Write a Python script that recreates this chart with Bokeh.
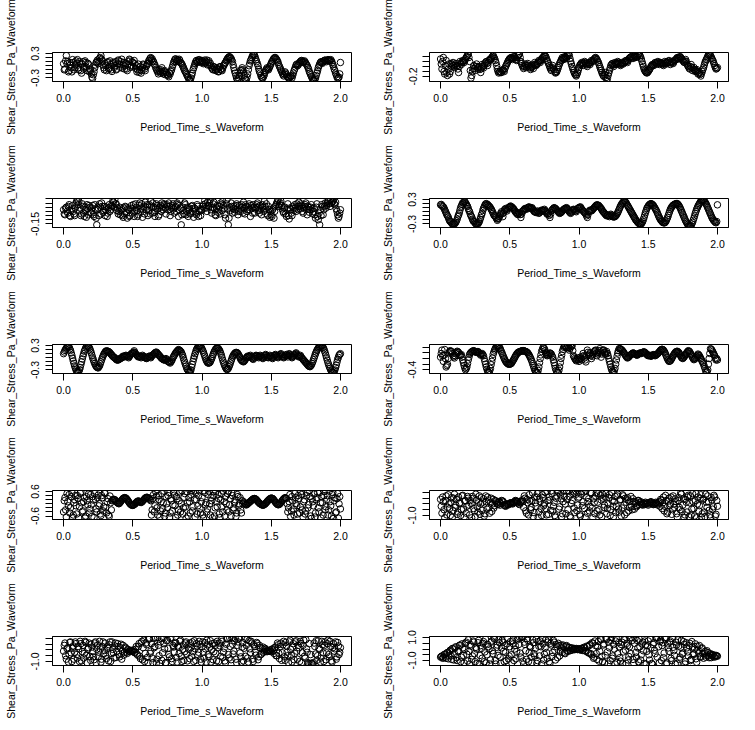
from bokeh.plotting import figure
from bokeh.layouts import column, row
from bokeh.models import Range1d, FixedTicker
from bokeh.embed import file_html
from bokeh.resources import INLINE

# sample times (s): on-grid samples and the in-between samples
period_time_s = [
    0.00, 0.01, 0.02, 0.03, 0.04, 0.05, 0.06, 0.07, 0.08, 0.09,
    0.10, 0.11, 0.12, 0.13, 0.14, 0.15, 0.16, 0.17, 0.18, 0.19,
    0.20, 0.21, 0.22, 0.23, 0.24, 0.25, 0.26, 0.27, 0.28, 0.29,
    0.30, 0.31, 0.32, 0.33, 0.34, 0.35, 0.36, 0.37, 0.38, 0.39,
    0.40, 0.41, 0.42, 0.43, 0.44, 0.45, 0.46, 0.47, 0.48, 0.49,
    0.50, 0.51, 0.52, 0.53, 0.54, 0.55, 0.56, 0.57, 0.58, 0.59,
    0.60, 0.61, 0.62, 0.63, 0.64, 0.65, 0.66, 0.67, 0.68, 0.69,
    0.70, 0.71, 0.72, 0.73, 0.74, 0.75, 0.76, 0.77, 0.78, 0.79,
    0.80, 0.81, 0.82, 0.83, 0.84, 0.85, 0.86, 0.87, 0.88, 0.89,
    0.90, 0.91, 0.92, 0.93, 0.94, 0.95, 0.96, 0.97, 0.98, 0.99,
    1.00, 1.01, 1.02, 1.03, 1.04, 1.05, 1.06, 1.07, 1.08, 1.09,
    1.10, 1.11, 1.12, 1.13, 1.14, 1.15, 1.16, 1.17, 1.18, 1.19,
    1.20, 1.21, 1.22, 1.23, 1.24, 1.25, 1.26, 1.27, 1.28, 1.29,
    1.30, 1.31, 1.32, 1.33, 1.34, 1.35, 1.36, 1.37, 1.38, 1.39,
    1.40, 1.41, 1.42, 1.43, 1.44, 1.45, 1.46, 1.47, 1.48, 1.49,
    1.50, 1.51, 1.52, 1.53, 1.54, 1.55, 1.56, 1.57, 1.58, 1.59,
    1.60, 1.61, 1.62, 1.63, 1.64, 1.65, 1.66, 1.67, 1.68, 1.69,
    1.70, 1.71, 1.72, 1.73, 1.74, 1.75, 1.76, 1.77, 1.78, 1.79,
    1.80, 1.81, 1.82, 1.83, 1.84, 1.85, 1.86, 1.87, 1.88, 1.89,
    1.90, 1.91, 1.92, 1.93, 1.94, 1.95, 1.96, 1.97, 1.98, 1.99,
    2.00,
]

period_time_s_mid = [
    0.005, 0.015, 0.025, 0.035, 0.045, 0.055, 0.065, 0.075, 0.085, 0.095,
    0.105, 0.115, 0.125, 0.135, 0.145, 0.155, 0.165, 0.175, 0.185, 0.195,
    0.205, 0.215, 0.225, 0.235, 0.245, 0.255, 0.265, 0.275, 0.285, 0.295,
    0.305, 0.315, 0.325, 0.335, 0.345, 0.355, 0.365, 0.375, 0.385, 0.395,
    0.405, 0.415, 0.425, 0.435, 0.445, 0.455, 0.465, 0.475, 0.485, 0.495,
    0.505, 0.515, 0.525, 0.535, 0.545, 0.555, 0.565, 0.575, 0.585, 0.595,
    0.605, 0.615, 0.625, 0.635, 0.645, 0.655, 0.665, 0.675, 0.685, 0.695,
    0.705, 0.715, 0.725, 0.735, 0.745, 0.755, 0.765, 0.775, 0.785, 0.795,
    0.805, 0.815, 0.825, 0.835, 0.845, 0.855, 0.865, 0.875, 0.885, 0.895,
    0.905, 0.915, 0.925, 0.935, 0.945, 0.955, 0.965, 0.975, 0.985, 0.995,
    1.005, 1.015, 1.025, 1.035, 1.045, 1.055, 1.065, 1.075, 1.085, 1.095,
    1.105, 1.115, 1.125, 1.135, 1.145, 1.155, 1.165, 1.175, 1.185, 1.195,
    1.205, 1.215, 1.225, 1.235, 1.245, 1.255, 1.265, 1.275, 1.285, 1.295,
    1.305, 1.315, 1.325, 1.335, 1.345, 1.355, 1.365, 1.375, 1.385, 1.395,
    1.405, 1.415, 1.425, 1.435, 1.445, 1.455, 1.465, 1.475, 1.485, 1.495,
    1.505, 1.515, 1.525, 1.535, 1.545, 1.555, 1.565, 1.575, 1.585, 1.595,
    1.605, 1.615, 1.625, 1.635, 1.645, 1.655, 1.665, 1.675, 1.685, 1.695,
    1.705, 1.715, 1.725, 1.735, 1.745, 1.755, 1.765, 1.775, 1.785, 1.795,
    1.805, 1.815, 1.825, 1.835, 1.845, 1.855, 1.865, 1.875, 1.885, 1.895,
    1.905, 1.915, 1.925, 1.935, 1.945, 1.955, 1.965, 1.975, 1.985, 1.995,
]

shear_1 = [
    0.05, -0.08, 0.25, 0.10, -0.12, 0.02, -0.15, 0.08, -0.05, 0.12,
    0.15, -0.10, 0.05, -0.18, 0.10, -0.02, 0.08, -0.12, 0.04, -0.08,
    -0.20, -0.31, -0.15, 0.02, 0.10, 0.05, 0.18, 0.25, 0.12, -0.05,
    0.06, -0.12, 0.10, -0.06, 0.03, -0.14, 0.08, 0.00, -0.10, 0.05,
    0.12, -0.04, 0.16, 0.02, -0.08, 0.06, -0.12, 0.10, 0.14, 0.00,
    0.08, 0.13, -0.06, -0.15, 0.04, -0.10, -0.18, -0.05, 0.02, -0.12,
    0.00, 0.06, 0.14, 0.20, 0.17, 0.10, 0.02, -0.08, -0.15, -0.10,
    -0.18, -0.05, -0.20, -0.12, -0.16, -0.22, -0.27, -0.20, -0.10, 0.02,
    0.12, 0.17, 0.15, 0.10, 0.13, 0.06, 0.00, -0.08, -0.15, -0.22,
    -0.28, -0.36, -0.30, -0.18, -0.05, 0.06, 0.13, 0.10, 0.15, 0.08,
    0.13, 0.05, 0.14, 0.10, 0.02, 0.12, 0.06, -0.05, -0.10, -0.04,
    -0.12, -0.08, -0.15, -0.02, -0.10, -0.06, 0.02, 0.08, 0.15, 0.20,
    0.22, 0.18, 0.10, -0.05, -0.18, -0.30, -0.36, -0.25, -0.12, -0.05,
    -0.15, -0.30, -0.35, -0.20, 0.00, 0.12, 0.20, 0.28, 0.25, 0.15,
    0.05, -0.08, -0.18, -0.28, -0.30, -0.22, -0.12, -0.05, -0.10, -0.02,
    0.06, 0.12, 0.18, 0.20, 0.15, 0.08, -0.02, -0.10, -0.18, -0.25,
    -0.15, -0.22, -0.28, -0.31, -0.25, -0.30, -0.18, -0.08, 0.02, 0.00,
    0.05, 0.10, 0.13, 0.08, 0.12, 0.06, 0.00, -0.08, -0.18, -0.26,
    -0.33, -0.36, -0.30, -0.18, -0.05, 0.04, 0.10, 0.06, 0.12, 0.14,
    0.10, 0.15, 0.12, 0.15, 0.08, -0.02, -0.12, -0.22, -0.31, -0.28,
    0.08,
]
shear_1_mid = [
    -0.10, 0.12, 0.05, -0.15, 0.08, -0.05, 0.15, -0.10, 0.02, 0.06,
    -0.05, 0.10, -0.12, 0.04, -0.08, 0.12, -0.04, 0.06, -0.14, -0.12,
    -0.28, -0.22, -0.05, 0.08, 0.14, 0.10, 0.20, 0.16, 0.02, -0.10,
    0.00, 0.08, -0.08, 0.12, -0.10, 0.05, -0.04, 0.10, -0.08, 0.14,
    0.04, 0.10, -0.06, 0.08, 0.00, -0.08, 0.04, 0.16, -0.04, 0.10,
    -0.02, 0.05, 0.00, -0.10, -0.16, -0.02, -0.12, 0.04, -0.08, -0.02,
    0.04, 0.12, 0.18, 0.14, 0.12, 0.04, -0.04, -0.12, -0.20, -0.14,
    -0.10, -0.16, -0.14, -0.22, -0.20, -0.24, -0.18, -0.14, -0.04, 0.08,
    0.16, 0.10, 0.14, 0.16, 0.08, 0.04, -0.04, -0.12, -0.18, -0.26,
    -0.33, -0.34, -0.24, -0.10, 0.00, 0.10, 0.08, 0.14, 0.12, 0.10,
    0.10, 0.08, 0.06, 0.14, 0.08, 0.02, 0.00, -0.08, -0.02, -0.10,
    -0.06, -0.14, -0.04, -0.08, -0.12, 0.00, 0.06, 0.12, 0.18, 0.22,
    0.20, 0.14, 0.02, -0.12, -0.24, -0.34, -0.30, -0.18, -0.10, -0.10,
    -0.24, -0.34, -0.28, -0.10, 0.06, 0.16, 0.24, 0.27, 0.20, 0.10,
    0.00, -0.14, -0.24, -0.30, -0.26, -0.16, -0.08, -0.08, -0.06, 0.02,
    0.10, 0.16, 0.20, 0.17, 0.12, 0.02, -0.06, -0.14, -0.22, -0.20,
    -0.18, -0.26, -0.30, -0.28, -0.26, -0.24, -0.12, -0.03, 0.04, 0.02,
    0.08, 0.12, 0.10, 0.10, 0.09, 0.03, -0.04, -0.14, -0.22, -0.30,
    -0.35, -0.34, -0.24, -0.12, 0.00, 0.08, 0.08, 0.09, 0.13, 0.12,
    0.13, 0.14, 0.13, 0.12, 0.03, -0.08, -0.18, -0.27, -0.30, -0.20,
]

shear_2 = [
    0.15, -0.05, 0.18, -0.15, 0.12, -0.18, 0.05, -0.10, 0.00, 0.08,
    -0.02, 0.06, 0.02, -0.12, 0.10, 0.04, 0.12, 0.08, 0.15, 0.20,
    0.25, 0.10, -0.23, -0.10, 0.02, -0.08, 0.05, -0.05, 0.00, -0.12,
    0.04, -0.03, 0.06, 0.10, 0.02, 0.12, 0.15, 0.18, 0.22, 0.16,
    0.08, -0.05, -0.13, -0.10, -0.12, -0.06, -0.10, 0.00, 0.06, 0.12,
    0.16, 0.18, 0.14, 0.20, 0.17, 0.12, 0.22, 0.25, 0.10, 0.02,
    -0.04, 0.05, -0.02, 0.06, 0.00, -0.06, 0.03, -0.04, 0.08, 0.02,
    0.06, 0.12, 0.08, 0.15, 0.18, 0.22, 0.20, 0.12, 0.06, -0.02,
    -0.08, 0.02, -0.06, -0.13, -0.10, -0.02, 0.06, 0.12, 0.18, 0.14,
    0.20, 0.16, 0.25, 0.22, 0.10, 0.00, -0.08, -0.15, -0.19, -0.12,
    -0.02, 0.04, 0.08, 0.02, 0.10, 0.06, 0.00, 0.08, 0.04, 0.12,
    0.10, 0.15, 0.18, 0.14, 0.08, 0.00, -0.08, -0.15, -0.20, -0.12,
    -0.28, -0.18, -0.08, 0.02, 0.06, 0.00, 0.08, 0.04, 0.10, 0.06,
    0.02, 0.08, 0.05, 0.10, 0.12, 0.08, 0.15, 0.18, 0.20, 0.16,
    0.22, 0.18, 0.20, 0.25, 0.22, 0.15, 0.05, -0.05, -0.10, -0.13,
    -0.10, -0.06, 0.00, 0.04, 0.02, 0.08, 0.05, 0.10, 0.04, 0.08,
    0.06, 0.02, 0.10, 0.05, 0.08, 0.12, 0.04, 0.10, 0.06, 0.12,
    0.14, 0.18, 0.15, 0.20, 0.16, 0.12, 0.08, 0.14, 0.05, 0.00,
    -0.05, 0.04, -0.08, -0.02, -0.10, -0.06, -0.15, -0.12, -0.19, -0.10,
    -0.02, 0.08, 0.14, 0.20, 0.25, 0.22, 0.16, 0.10, 0.02, -0.05,
    -0.02,
]
shear_2_mid = [
    0.05, 0.10, -0.10, 0.02, -0.12, -0.05, -0.15, 0.06, 0.04, 0.02,
    0.03, 0.00, -0.05, 0.00, 0.07, 0.08, 0.10, 0.12, 0.18, 0.23,
    0.18, -0.08, -0.18, -0.04, -0.04, 0.00, 0.00, -0.02, -0.06, -0.04,
    0.00, 0.02, 0.08, 0.06, 0.08, 0.14, 0.16, 0.20, 0.19, 0.12,
    0.02, -0.10, -0.11, -0.12, -0.08, -0.08, -0.04, 0.03, 0.09, 0.14,
    0.17, 0.16, 0.17, 0.19, 0.14, 0.18, 0.24, 0.18, 0.06, -0.01,
    0.00, 0.02, 0.03, 0.02, -0.03, -0.02, 0.00, 0.03, 0.05, 0.04,
    0.09, 0.10, 0.12, 0.17, 0.20, 0.21, 0.16, 0.09, 0.02, -0.05,
    -0.03, -0.03, -0.10, -0.12, -0.06, 0.02, 0.09, 0.15, 0.16, 0.17,
    0.18, 0.21, 0.24, 0.16, 0.05, -0.04, -0.12, -0.17, -0.16, -0.07,
    0.02, 0.06, 0.05, 0.06, 0.08, 0.03, 0.04, 0.06, 0.08, 0.11,
    0.13, 0.17, 0.16, 0.11, 0.04, -0.04, -0.12, -0.18, -0.16, -0.22,
    -0.24, -0.13, -0.03, 0.04, 0.03, 0.04, 0.06, 0.07, 0.08, 0.04,
    0.05, 0.06, 0.08, 0.11, 0.10, 0.12, 0.17, 0.19, 0.18, 0.19,
    0.20, 0.19, 0.23, 0.24, 0.19, 0.10, 0.00, -0.08, -0.12, -0.12,
    -0.08, -0.03, 0.02, 0.03, 0.05, 0.07, 0.08, 0.07, 0.06, 0.07,
    0.04, 0.06, 0.08, 0.07, 0.10, 0.08, 0.07, 0.08, 0.09, 0.13,
    0.16, 0.17, 0.18, 0.18, 0.14, 0.10, 0.11, 0.10, 0.02, -0.03,
    0.00, -0.02, -0.05, -0.06, -0.08, -0.10, -0.14, -0.16, -0.14, -0.06,
    0.03, 0.11, 0.17, 0.23, 0.24, 0.19, 0.13, 0.06, -0.02, -0.04,
]

shear_3 = [
    0.02, -0.04, 0.05, -0.02, 0.08, -0.06, 0.03, 0.00, -0.05, 0.10,
    0.14, 0.12, 0.04, -0.03, 0.06, -0.06, 0.02, 0.08, -0.04, 0.05,
    -0.02, 0.07, -0.06, 0.03, -0.16, 0.04, 0.09, -0.03, 0.06, 0.01,
    -0.05, 0.05, -0.02, 0.08, 0.02, 0.06, 0.11, 0.14, 0.09, 0.04,
    0.00, -0.04, 0.03, -0.07, -0.03, 0.05, -0.08, 0.02, -0.05, 0.07,
    0.03, -0.06, 0.09, 0.01, -0.04, 0.10, 0.04, -0.07, 0.06, 0.11,
    0.02, -0.05, 0.08, 0.12, -0.02, 0.05, -0.06, 0.09, 0.03, -0.04,
    0.07, 0.10, 0.02, 0.08, -0.03, 0.06, 0.10, -0.05, 0.04, 0.09,
    -0.02, 0.06, 0.10, -0.06, 0.14, -0.16, 0.05, -0.03, 0.08, 0.00,
    -0.06, 0.04, -0.02, 0.07, -0.07, 0.03, -0.04, 0.06, 0.00, -0.05,
    0.02, 0.08, 0.13, 0.04, 0.11, 0.06, 0.14, -0.02, 0.09, 0.03,
    -0.05, 0.07, 0.02, -0.03, 0.08, 0.12, 0.04, -0.08, 0.14, -0.16,
    0.05, 0.10, -0.02, 0.06, 0.02, 0.09, -0.04, 0.07, 0.00, 0.05,
    0.11, -0.03, 0.06, 0.02, 0.09, -0.06, 0.04, 0.08, -0.02, 0.05,
    0.10, 0.01, 0.07, -0.04, 0.05, 0.12, 0.03, -0.03, 0.06, -0.07,
    -0.04, 0.02, -0.08, 0.06, 0.10, 0.14, 0.08, 0.12, 0.03, -0.02,
    0.05, -0.06, 0.09, -0.09, 0.02, -0.05, 0.04, 0.08, 0.00, 0.06,
    0.11, 0.03, 0.07, -0.02, 0.06, 0.10, -0.04, 0.05, 0.02, 0.08,
    -0.03, 0.04, -0.08, 0.09, -0.10, -0.16, -0.05, 0.06, 0.02, 0.10,
    0.07, 0.12, 0.09, 0.14, 0.11, 0.14, 0.08, 0.03, -0.04, -0.06,
    0.02,
]
shear_3_mid = [
    -0.03, 0.04, 0.00, 0.06, -0.05, 0.01, 0.07, -0.03, 0.04, 0.12,
    0.08, 0.01, -0.05, 0.09, -0.02, 0.05, -0.07, 0.03, 0.07, -0.01,
    0.04, -0.04, 0.08, -0.08, 0.02, -0.05, 0.05, 0.10, -0.01, 0.06,
    0.02, -0.06, 0.04, 0.00, 0.07, 0.12, 0.05, 0.09, 0.01, -0.03,
    0.05, 0.01, -0.05, 0.04, 0.06, -0.02, 0.03, -0.06, 0.04, -0.02,
    0.08, 0.00, 0.05, -0.06, 0.07, -0.01, 0.09, 0.02, -0.03, 0.05,
    0.08, 0.01, -0.03, 0.06, 0.10, -0.01, 0.04, 0.07, -0.06, 0.05,
    0.00, 0.05, 0.09, 0.04, 0.08, 0.02, 0.06, 0.00, 0.07, 0.03,
    0.05, 0.00, 0.08, 0.02, 0.04, -0.04, 0.01, 0.10, -0.04, 0.05,
    0.02, -0.03, 0.06, 0.00, 0.04, -0.02, 0.08, -0.06, 0.03, 0.01,
    0.06, 0.04, 0.09, 0.00, 0.07, 0.10, 0.02, 0.05, 0.11, -0.04,
    0.04, -0.01, 0.06, 0.10, 0.01, 0.07, -0.04, 0.09, 0.03, -0.08,
    0.01, 0.06, 0.03, -0.01, 0.07, 0.04, 0.00, 0.03, 0.08, -0.02,
    0.04, 0.08, 0.00, 0.05, 0.02, 0.07, -0.02, 0.05, 0.03, 0.08,
    0.05, -0.02, 0.03, 0.08, 0.00, 0.06, 0.09, -0.05, 0.02, 0.00,
    -0.06, 0.04, 0.00, 0.08, 0.12, 0.06, 0.10, 0.07, 0.00, 0.04,
    -0.03, 0.02, -0.05, 0.04, -0.02, 0.06, 0.01, 0.04, 0.09, 0.02,
    0.06, 0.09, 0.00, 0.04, 0.08, 0.02, 0.06, -0.01, 0.05, 0.03,
    0.00, -0.04, 0.05, -0.06, -0.02, 0.02, 0.08, -0.04, 0.06, 0.04,
    0.10, 0.13, 0.06, 0.10, 0.12, 0.09, 0.11, 0.00, -0.08, -0.02,
]

shear_4 = [
    0.17, 0.15, 0.12, 0.05, -0.03, -0.10, -0.18, -0.24, -0.28, -0.30,
    -0.30, -0.26, -0.18, -0.08, 0.04, 0.14, 0.22, 0.24, 0.22, 0.16,
    0.08, 0.00, -0.10, -0.18, -0.24, -0.28, -0.30, -0.30, -0.24, -0.14,
    -0.04, 0.08, 0.16, 0.20, 0.18, 0.14, 0.10, 0.04, -0.04, -0.10,
    -0.14, -0.21, -0.16, -0.08, 0.00, -0.12, 0.04, 0.08, 0.02, 0.10,
    0.12, 0.13, 0.10, 0.06, 0.00, -0.04, -0.07, -0.02, -0.14, 0.00,
    0.04, 0.08, 0.06, 0.10, 0.12, 0.08, 0.10, 0.04, 0.00, -0.02,
    0.02, -0.04, 0.00, 0.04, 0.02, 0.06, 0.00, -0.06, -0.04, -0.14,
    0.02, 0.06, 0.10, 0.08, 0.04, 0.00, -0.04, -0.02, 0.02, 0.06,
    0.08, 0.10, 0.06, 0.00, -0.04, 0.02, 0.06, 0.04, 0.00, 0.08,
    0.10, 0.12, 0.06, 0.02, -0.02, -0.06, -0.14, 0.00, 0.04, 0.02,
    0.06, 0.10, 0.14, 0.17, 0.16, 0.12, 0.08, 0.02, -0.02, -0.06,
    -0.10, -0.08, -0.12, -0.06, -0.10, -0.13, -0.12, -0.08, -0.02, 0.06,
    0.14, 0.20, 0.24, 0.27, 0.22, 0.16, 0.10, 0.04, -0.02, -0.08,
    -0.14, -0.20, -0.24, -0.28, -0.30, -0.30, -0.24, -0.14, -0.02, 0.08,
    0.14, 0.18, 0.20, 0.18, 0.14, 0.08, 0.02, -0.06, -0.14, -0.20,
    -0.24, -0.27, -0.27, -0.22, -0.14, -0.04, 0.06, 0.12, 0.16, 0.18,
    0.20, 0.20, 0.16, 0.10, 0.02, -0.06, -0.14, -0.22, -0.28, -0.34,
    -0.36, -0.34, -0.26, -0.16, -0.04, 0.06, 0.14, 0.20, 0.26, 0.28,
    0.28, 0.24, 0.18, 0.10, 0.02, -0.06, -0.14, -0.20, -0.24, -0.27,
    0.17,
]
shear_4_mid = [
    0.18, 0.13, 0.09, 0.01, -0.07, -0.13, -0.22, -0.25, -0.30, -0.28,
    -0.28, -0.22, -0.12, -0.03, 0.10, 0.18, 0.21, 0.25, 0.19, 0.13,
    0.03, -0.06, -0.13, -0.22, -0.25, -0.30, -0.28, -0.27, -0.19, -0.08,
    0.03, 0.12, 0.19, 0.17, 0.15, 0.12, 0.06, 0.00, -0.08, -0.11,
    -0.17, -0.18, -0.12, -0.04, -0.05, -0.03, 0.06, 0.05, 0.07, 0.11,
    0.14, 0.11, 0.08, 0.03, -0.02, -0.06, -0.04, -0.07, -0.06, 0.02,
    0.06, 0.07, 0.09, 0.11, 0.10, 0.09, 0.07, 0.01, -0.01, 0.00,
    -0.01, -0.02, 0.02, 0.03, 0.04, 0.03, -0.03, -0.05, -0.09, -0.06,
    0.04, 0.08, 0.09, 0.06, 0.02, -0.02, -0.03, 0.00, 0.04, 0.07,
    0.09, 0.08, 0.03, -0.02, -0.01, 0.04, 0.05, 0.02, 0.04, 0.09,
    0.11, 0.09, 0.04, 0.00, -0.04, -0.10, -0.07, 0.02, 0.03, 0.04,
    0.08, 0.12, 0.16, 0.16, 0.14, 0.10, 0.05, 0.00, -0.04, -0.08,
    -0.09, -0.10, -0.09, -0.08, -0.12, -0.12, -0.10, -0.05, 0.02, 0.10,
    0.17, 0.22, 0.26, 0.24, 0.19, 0.13, 0.07, 0.01, -0.05, -0.11,
    -0.17, -0.22, -0.26, -0.29, -0.30, -0.27, -0.19, -0.08, 0.03, 0.11,
    0.16, 0.19, 0.19, 0.16, 0.11, 0.05, -0.02, -0.10, -0.17, -0.22,
    -0.26, -0.27, -0.25, -0.18, -0.09, 0.01, 0.09, 0.14, 0.17, 0.19,
    0.20, 0.18, 0.13, 0.06, -0.02, -0.10, -0.18, -0.25, -0.31, -0.35,
    -0.35, -0.30, -0.21, -0.10, 0.01, 0.10, 0.17, 0.23, 0.27, 0.28,
    0.26, 0.21, 0.14, 0.06, -0.02, -0.10, -0.17, -0.22, -0.26, -0.24,
]

shear_5 = [
    0.10, 0.18, 0.24, 0.28, 0.26, 0.18, 0.06, -0.08, -0.20, -0.30,
    -0.36, -0.34, -0.24, -0.10, 0.04, 0.16, 0.24, 0.29, 0.28, 0.22,
    0.12, 0.00, -0.10, -0.18, -0.23, -0.25, -0.20, -0.10, 0.00, 0.08,
    0.14, 0.17, 0.16, 0.14, 0.10, 0.06, 0.02, 0.00, -0.04, -0.06,
    -0.04, -0.02, 0.00, 0.04, 0.02, 0.06, 0.04, 0.00, 0.06, 0.10,
    0.12, 0.17, 0.10, 0.06, 0.02, 0.04, 0.00, 0.06, 0.03, 0.00,
    -0.02, 0.02, 0.04, 0.00, 0.06, 0.08, 0.12, 0.14, 0.10, 0.06,
    0.02, -0.02, -0.04, -0.06, -0.02, -0.08, -0.10, -0.13, -0.08, 0.00,
    0.06, 0.12, 0.16, 0.20, 0.18, 0.14, 0.06, -0.06, -0.16, -0.26,
    -0.32, -0.36, -0.30, -0.16, -0.02, 0.10, 0.20, 0.26, 0.29, 0.28,
    0.22, 0.14, 0.04, -0.06, -0.12, -0.13, -0.10, -0.02, 0.08, 0.16,
    0.22, 0.24, 0.22, 0.16, 0.06, -0.06, -0.16, -0.24, -0.29, -0.26,
    -0.18, -0.08, 0.02, 0.08, 0.12, 0.13, 0.10, 0.04, -0.04, -0.08,
    -0.10, -0.06, 0.00, 0.04, 0.02, 0.06, 0.00, -0.04, 0.02, 0.06,
    0.04, 0.00, 0.06, 0.02, -0.02, 0.04, 0.08, 0.02, 0.00, 0.06,
    0.02, -0.02, 0.04, 0.08, 0.04, 0.00, 0.06, 0.10, 0.04, 0.00,
    0.04, 0.08, 0.02, 0.10, 0.06, 0.00, 0.04, 0.08, 0.12, 0.06,
    0.02, 0.06, 0.00, -0.04, -0.08, -0.12, -0.16, -0.20, -0.22, -0.18,
    -0.10, 0.00, 0.10, 0.18, 0.24, 0.27, 0.29, 0.28, 0.22, 0.12,
    0.00, -0.12, -0.22, -0.30, -0.35, -0.36, -0.30, -0.18, -0.04, 0.06,
    0.10,
]
shear_5_mid = [
    0.14, 0.21, 0.26, 0.27, 0.22, 0.12, -0.01, -0.14, -0.25, -0.33,
    -0.35, -0.29, -0.17, -0.03, 0.10, 0.20, 0.27, 0.28, 0.25, 0.17,
    0.06, -0.05, -0.14, -0.21, -0.24, -0.22, -0.15, -0.05, 0.04, 0.11,
    0.16, 0.16, 0.15, 0.12, 0.08, 0.04, 0.01, -0.02, -0.05, -0.05,
    -0.03, -0.01, 0.02, 0.03, 0.04, 0.05, 0.02, 0.03, 0.08, 0.11,
    0.14, 0.13, 0.08, 0.04, 0.03, 0.02, 0.03, 0.04, 0.01, -0.01,
    0.00, 0.03, 0.02, 0.03, 0.07, 0.10, 0.13, 0.12, 0.08, 0.04,
    0.00, -0.03, -0.05, -0.04, -0.05, -0.09, -0.11, -0.10, -0.04, 0.03,
    0.09, 0.14, 0.18, 0.19, 0.16, 0.10, 0.00, -0.11, -0.21, -0.29,
    -0.34, -0.33, -0.23, -0.09, 0.04, 0.15, 0.23, 0.27, 0.29, 0.25,
    0.18, 0.09, -0.01, -0.09, -0.13, -0.12, -0.06, 0.03, 0.12, 0.19,
    0.23, 0.23, 0.19, 0.11, 0.00, -0.11, -0.20, -0.27, -0.28, -0.22,
    -0.13, -0.03, 0.05, 0.10, 0.13, 0.12, 0.07, 0.00, -0.06, -0.09,
    -0.08, -0.03, 0.02, 0.03, 0.04, 0.03, -0.02, -0.01, 0.04, 0.05,
    0.02, 0.03, 0.04, 0.00, 0.01, 0.06, 0.05, 0.01, 0.03, 0.04,
    0.00, 0.01, 0.06, 0.06, 0.02, 0.03, 0.08, 0.07, 0.02, 0.02,
    0.06, 0.05, 0.06, 0.08, 0.03, 0.02, 0.06, 0.10, 0.09, 0.04,
    0.04, 0.03, -0.02, -0.06, -0.10, -0.14, -0.18, -0.21, -0.20, -0.14,
    -0.05, 0.05, 0.14, 0.21, 0.26, 0.28, 0.29, 0.25, 0.17, 0.06,
    -0.06, -0.17, -0.26, -0.33, -0.36, -0.33, -0.24, -0.11, 0.01, 0.08,
]

shear_6 = [
    0.05, 0.30, -0.10, 0.32, -0.30, -0.20, 0.20, 0.28, 0.24, 0.10,
    0.02, 0.18, 0.26, 0.22, 0.10, 0.14, -0.05, -0.25, -0.40, -0.30,
    -0.05, 0.15, 0.22, 0.26, 0.28, 0.24, 0.22, 0.25, 0.20, 0.12,
    0.18, 0.10, -0.10, -0.30, -0.45, -0.50, -0.35, -0.10, 0.15, 0.30,
    0.40, 0.45, 0.44, 0.36, 0.24, 0.12, 0.00, -0.10, -0.16, -0.20,
    -0.20, -0.18, -0.10, -0.02, 0.08, 0.16, 0.22, 0.24, 0.26, 0.28,
    0.28, 0.26, 0.24, 0.20, 0.12, 0.02, -0.10, -0.25, -0.40, -0.48,
    -0.50, -0.30, 0.00, 0.25, 0.39, 0.35, 0.20, 0.10, 0.14, 0.20,
    0.16, 0.05, -0.15, -0.35, -0.48, -0.50, -0.30, 0.00, 0.25, 0.40,
    0.45, 0.38, 0.45, 0.30, 0.42, 0.45, 0.10, 0.00, -0.08, 0.02,
    -0.10, 0.05, -0.05, 0.18, 0.02, -0.12, 0.30, 0.12, 0.20, 0.00,
    0.15, 0.25, 0.30, 0.10, 0.22, 0.35, 0.05, 0.28, 0.30, 0.15,
    0.25, 0.10, -0.10, -0.30, -0.45, -0.50, -0.35, -0.05, 0.20, 0.35,
    0.34, 0.30, 0.24, 0.16, 0.08, 0.02, 0.06, 0.12, 0.16, 0.20,
    0.18, 0.14, 0.12, 0.16, 0.20, 0.18, 0.22, 0.24, 0.20, 0.14,
    0.10, 0.12, 0.08, 0.12, 0.14, 0.10, 0.14, 0.18, 0.24, 0.30,
    0.33, 0.30, 0.22, 0.10, -0.02, -0.10, -0.08, 0.00, 0.10, 0.18,
    0.24, 0.26, 0.22, 0.14, 0.04, 0.00, 0.06, 0.14, 0.22, 0.28,
    0.24, 0.14, 0.04, -0.04, 0.00, 0.08, 0.16, 0.10, 0.00, -0.10,
    -0.20, -0.35, -0.50, -0.40, 0.00, 0.35, 0.30, 0.20, 0.10, -0.05,
    -0.05,
]
shear_6_mid = [
    0.18, 0.10, 0.12, 0.00, -0.25, 0.00, 0.25, 0.26, 0.17, 0.06,
    0.10, 0.22, 0.24, 0.16, 0.12, 0.05, -0.15, -0.33, -0.36, -0.18,
    0.05, 0.19, 0.24, 0.27, 0.26, 0.23, 0.24, 0.22, 0.16, 0.15,
    0.14, 0.00, -0.20, -0.38, -0.48, -0.43, -0.22, 0.02, 0.23, 0.35,
    0.43, 0.45, 0.40, 0.30, 0.18, 0.06, -0.05, -0.13, -0.18, -0.20,
    -0.19, -0.14, -0.06, 0.03, 0.12, 0.19, 0.23, 0.25, 0.27, 0.28,
    0.27, 0.25, 0.22, 0.16, 0.07, -0.04, -0.18, -0.33, -0.44, -0.50,
    -0.42, -0.15, 0.13, 0.32, 0.38, 0.28, 0.15, 0.12, 0.17, 0.18,
    0.10, -0.05, -0.25, -0.42, -0.50, -0.42, -0.15, 0.12, 0.33, 0.43,
    0.42, 0.40, 0.38, 0.36, 0.44, 0.28, 0.05, -0.04, -0.03, -0.05,
    -0.02, 0.00, 0.08, 0.10, -0.05, 0.10, 0.22, 0.16, 0.10, 0.08,
    0.20, 0.28, 0.20, 0.16, 0.28, 0.20, 0.16, 0.30, 0.22, 0.20,
    0.18, 0.00, -0.20, -0.38, -0.48, -0.43, -0.20, 0.08, 0.28, 0.35,
    0.32, 0.27, 0.20, 0.12, 0.05, 0.04, 0.09, 0.14, 0.18, 0.19,
    0.16, 0.13, 0.14, 0.18, 0.19, 0.20, 0.23, 0.22, 0.17, 0.12,
    0.11, 0.10, 0.10, 0.13, 0.12, 0.12, 0.16, 0.21, 0.27, 0.32,
    0.32, 0.26, 0.16, 0.04, -0.06, -0.09, -0.04, 0.05, 0.14, 0.21,
    0.25, 0.24, 0.18, 0.09, 0.02, 0.03, 0.10, 0.18, 0.25, 0.26,
    0.19, 0.09, 0.00, -0.02, 0.04, 0.12, 0.13, 0.05, -0.05, -0.15,
    -0.28, -0.43, -0.46, -0.20, 0.18, 0.33, 0.25, 0.15, 0.02, 0.00,
]

shear_7 = [
    -0.40, 0.30, -0.65, 0.10, 0.45, -0.20, 0.55, -0.55, 0.20, -0.10,
    0.40, -0.70, 0.52, 0.05, -0.35, 0.28, -0.60, 0.15, 0.48, -0.25,
    -0.05, 0.35, -0.68, 0.22, -0.40, 0.42, 0.00, -0.58, 0.30, -0.15,
    0.50, -0.45, 0.25, -0.62, 0.05, 0.15, 0.22, 0.20, 0.12, 0.05,
    0.00, 0.08, 0.18, 0.26, 0.30, 0.28, 0.20, 0.10, 0.00, -0.06,
    -0.08, -0.04, 0.02, 0.10, 0.14, 0.10, 0.06, 0.12, 0.20, 0.28,
    0.32, 0.30, 0.24, 0.15, -0.30, 0.45, -0.10, 0.38, -0.55, 0.20,
    -0.35, 0.50, 0.05, -0.62, 0.35, -0.20, 0.55, -0.45, 0.15, -0.05,
    0.42, -0.68, 0.25, -0.30, 0.58, 0.00, -0.50, 0.32, -0.15, 0.60,
    -0.60, 0.10, 0.45, -0.35, 0.62, -0.65, 0.20, -0.10, 0.64, -0.45,
    0.30, -0.70, 0.55, 0.05, -0.25, 0.62, -0.55, 0.15, 0.40, -0.60,
    0.60, -0.15, 0.25, -0.68, 0.48, -0.40, 0.10, 0.35, -0.30, 0.62,
    -0.05, -0.60, 0.40, -0.20, 0.20, -0.45, 0.35, 0.00, -0.30, 0.15,
    0.10, 0.00, -0.06, 0.00, 0.06, 0.12, 0.18, 0.24, 0.26, 0.22,
    0.14, 0.06, 0.00, -0.04, -0.07, -0.04, 0.02, 0.10, 0.18, 0.24,
    0.28, 0.26, 0.18, 0.08, 0.00, -0.05, -0.02, 0.06, 0.16, 0.24,
    0.30, 0.26, -0.40, 0.10, -0.62, 0.35, -0.25, 0.50, 0.00, -0.50,
    0.25, -0.15, 0.45, -0.65, 0.20, -0.35, 0.55, -0.05, 0.35, -0.72,
    0.10, 0.48, -0.45, 0.30, -0.20, 0.55, -0.70, 0.05, 0.40, -0.30,
    0.20, -0.55, 0.62, -0.10, 0.45, -0.72, 0.30, -0.40, 0.50, 0.00,
    -0.25,
]
shear_7_mid = [
    0.15, -0.30, 0.50, -0.10, -0.45, 0.35, -0.65, 0.05, 0.40, -0.50,
    0.25, -0.15, 0.58, -0.40, 0.10, -0.70, 0.35, -0.05, -0.45, 0.45,
    -0.62, 0.18, 0.50, -0.25, 0.30, -0.10, -0.50, 0.40, -0.35, 0.55,
    -0.20, 0.10, -0.55, 0.38, -0.30, 0.18, 0.21, 0.16, 0.08, 0.02,
    0.04, 0.13, 0.22, 0.28, 0.29, 0.24, 0.15, 0.05, -0.03, -0.07,
    -0.06, -0.01, 0.06, 0.12, 0.12, 0.08, 0.09, 0.16, 0.24, 0.30,
    0.31, 0.27, 0.20, -0.55, 0.25, -0.40, 0.60, -0.20, 0.40, -0.65,
    0.10, -0.25, 0.62, -0.45, 0.00, 0.40, -0.68, 0.25, -0.35, 0.58,
    -0.10, 0.35, -0.55, 0.15, -0.40, 0.64, -0.20, 0.50, -0.70, 0.05,
    0.30, -0.45, 0.64, -0.15, 0.20, 0.55, -0.50, 0.40, -0.25, 0.10,
    -0.55, 0.64, -0.05, -0.40, 0.45, 0.00, 0.30, -0.68, 0.60, -0.20,
    0.10, 0.45, -0.50, 0.20, -0.15, 0.62, -0.60, 0.00, 0.50, -0.40,
    0.25, 0.55, -0.30, 0.05, -0.62, 0.45, -0.10, 0.30, -0.45, 0.00,
    0.05, -0.03, -0.03, 0.03, 0.09, 0.15, 0.21, 0.25, 0.24, 0.18,
    0.10, 0.03, -0.02, -0.06, -0.06, -0.01, 0.06, 0.14, 0.21, 0.26,
    0.27, 0.22, 0.13, 0.04, -0.03, -0.04, 0.02, 0.11, 0.20, 0.27,
    0.28, 0.00, -0.20, 0.45, -0.35, 0.15, -0.55, 0.30, -0.10, 0.40,
    -0.45, 0.60, -0.30, 0.10, -0.50, 0.40, -0.20, 0.62, -0.60, 0.25,
    -0.10, -0.65, 0.20, 0.55, -0.40, 0.05, 0.35, -0.55, 0.60, -0.15,
    0.40, -0.30, 0.10, -0.60, 0.55, 0.15, -0.45, 0.25, -0.70, 0.35,
]

shear_8 = [
    0.40, -0.80, 0.20, -1.20, 0.70, -0.30, 0.00, -1.00, 0.55, -0.60,
    0.85, -0.10, -0.90, 0.60, 0.10, -0.50, 0.75, -1.15, 0.30, -0.20,
    0.50, -0.95, 0.05, 0.65, -0.40, -1.10, 0.35, -0.70, 0.70, 0.00,
    -0.55, 0.45, -0.85, 0.20, 0.60, -0.30, 0.10, -0.65, 0.40, -0.15,
    0.25, 0.00, 0.20, -0.10, 0.30, 0.25, -0.10, -0.20, 0.00, -0.08,
    0.05, 0.10, 0.00, 0.15, 0.30, 0.25, 0.10, -0.05, 0.20, 0.35,
    -0.30, 0.50, -0.80, 0.10, 0.80, -0.50, 0.30, -1.10, 0.60, -0.20,
    0.90, -0.70, 0.20, -1.00, 0.55, 0.00, -0.40, 1.10, -0.90, 0.35,
    1.14, -0.60, 0.15, -1.15, 0.70, 1.05, -0.25, 0.45, -0.85, 1.10,
    0.00, 1.14, -0.50, 0.65, -1.20, 0.30, 1.05, -0.75, 0.85, -0.10,
    0.60, -1.05, 1.10, 0.20, -0.40, 1.14, -0.80, 0.45, -0.20, 0.95,
    -1.20, 0.10, 0.70, -0.60, 0.90, -0.95, 0.35, 0.85, -0.30, 0.60,
    -0.85, 0.00, 0.80, -0.50, 0.30, -1.10, 0.65, -0.20, 0.85, -0.70,
    0.40, -0.35, 0.70, -0.95, 0.15, 0.55, -0.60, 0.25, -0.25, 0.45,
    -0.45, 0.20, -0.15, 0.30, 0.10, 0.00, -0.10, 0.05, 0.15, 0.00,
    -0.10, 0.10, 0.20, 0.05, -0.05, 0.00, 0.10, -0.10, 0.20, 0.40,
    -0.40, 0.60, -0.20, 0.30, -0.70, 0.50, 0.00, -0.90, 0.70, -0.30,
    0.20, -1.15, 0.55, -0.50, 0.85, -0.10, -1.20, 0.40, -0.70, 0.75,
    0.10, -0.95, 0.90, -0.40, 0.30, -1.20, 0.60, -0.15, 0.80, -0.85,
    0.45, -1.10, 0.15, 0.70, -0.55, -1.20, 0.35, -0.25, 0.60, -0.90,
    -0.20,
]
shear_8_mid = [
    -0.20, 0.60, -0.50, 0.30, -0.95, 0.80, -0.40, 0.15, -1.15, 0.50,
    -0.30, 0.40, -0.70, 0.05, -1.00, 0.70, -0.45, 0.25, -0.80, 0.65,
    -0.10, 0.30, -1.20, 0.50, -0.60, 0.85, -0.25, 0.10, -0.90, 0.55,
    0.15, -1.05, 0.70, -0.45, 0.35, -0.80, 0.50, 0.00, -0.35, 0.30,
    0.10, -0.05, 0.15, 0.05, 0.25, 0.15, -0.15, -0.10, -0.05, 0.00,
    0.10, 0.05, 0.10, 0.20, 0.25, 0.20, 0.00, 0.10, 0.25, 0.20,
    0.70, -0.60, 0.40, -0.95, 0.25, -0.30, 0.95, -0.75, 0.10, 0.60,
    -1.20, 0.45, -0.40, 0.80, -0.15, 1.00, -0.95, 0.30, 0.60, -0.55,
    0.90, -0.20, -1.00, 0.50, 1.14, -0.45, 0.80, -1.10, 0.20, 0.65,
    -0.85, 0.40, 1.10, -1.05, 0.05, 0.90, -0.35, 1.14, -0.60, 0.50,
    -0.90, 0.85, -0.15, 1.05, -1.15, 0.55, 0.20, -0.60, 1.00, -0.35,
    0.45, -0.85, 1.00, 0.15, -0.50, 0.75, -1.10, 0.50, -0.10, 0.90,
    -0.40, 0.55, -1.00, 1.00, -0.20, 0.20, -0.75, 0.70, -0.45, 0.35,
    -1.05, 0.80, -0.10, 0.50, -0.75, 0.35, -0.30, 0.65, -0.50, 0.20,
    0.10, -0.25, 0.30, -0.05, 0.20, -0.05, 0.10, -0.05, 0.05, 0.10,
    0.00, 0.15, 0.10, -0.05, 0.05, 0.15, 0.00, 0.10, -0.20, 0.30,
    0.10, -0.60, 0.75, -0.85, 0.25, -0.15, 0.60, -0.50, 0.00, 0.45,
    -0.85, 0.30, -0.30, 0.95, -0.65, 0.45, -0.95, 0.15, 0.60, -1.10,
    0.70, -0.45, 0.20, -1.05, 0.90, 0.00, -0.60, 0.50, -1.15, 0.35,
    -0.70, 0.85, -0.30, 0.20, -0.95, 0.55, -0.45, 0.75, -1.05, 0.30,
]

shear_9 = [
    -0.10, 0.60, -0.80, 0.20, -0.40, 0.70, -1.00, 0.35, -0.20, 0.55,
    -0.70, 0.10, 0.75, -0.95, 0.40, -0.30, 0.65, -1.10, 0.20, -0.55,
    0.50, -0.15, -0.85, 0.70, 0.05, -0.60, 0.75, -1.05, 0.30, -0.35,
    0.60, -0.75, 0.15, 0.45, -1.00, 0.70, -0.25, 0.35, -0.65, 0.55,
    -0.40, 0.20, -0.80, 0.40, -0.20, 0.15, -0.30, 0.00, -0.15, -0.05,
    -0.10, -0.20, 0.05, -0.35, 0.30, -0.55, 0.60, -0.85, 0.85, -0.30,
    0.45, -1.10, 0.95, -0.10, -0.70, 1.00, 0.30, -1.15, 1.06, -0.50,
    0.70, -0.90, 1.06, 0.10, -1.10, 0.85, -0.40, 1.00, -0.75, 0.40,
    -0.20, 0.65, -1.05, 0.25, 0.75, -0.55, 0.05, -0.90, 0.60, -0.35,
    0.45, -0.75, 0.20, 0.70, -1.00, 0.10, 0.55, -0.45, 0.75, -0.80,
    0.30, -0.20, 0.65, -1.05, 0.45, -0.60, 0.80, 0.00, -0.85, 0.60,
    -0.30, 0.75, -1.00, 0.35, 0.90, -0.65, 0.15, -1.10, 0.95, -0.40,
    1.06, -0.85, 0.50, -0.10, 1.00, -1.10, 0.70, 1.06, -0.60, 0.25,
    -0.95, 1.00, 0.40, -0.70, 0.80, -0.25, 0.60, -1.00, 0.30, -0.45,
    0.55, -0.60, 0.20, -0.35, 0.25, -0.10, 0.05, -0.15, -0.10, 0.00,
    -0.15, 0.10, -0.30, 0.25, -0.50, 0.45, -0.75, 0.60, -0.25, 0.75,
    -0.90, 0.35, -0.50, 0.70, 0.05, -1.05, 0.55, -0.30, 0.80, -0.80,
    0.20, 0.75, -1.10, 0.40, -0.55, 0.90, -0.20, -1.20, -1.20, -1.15,
    -1.20, 0.60, -0.35, -0.90, 0.80, 0.05, -0.70, 0.45, -1.00, 0.70,
    -0.25, 0.85, -0.60, 0.30, -1.05, 0.55, 0.10, -0.80, 0.65, -0.40,
    0.20,
]
shear_9_mid = [
    0.40, -0.50, 0.10, -1.05, 0.65, -0.25, 0.15, -0.80, 0.70, -0.40,
    0.30, -1.00, 0.55, -0.15, -0.70, 0.75, -0.45, 0.05, 0.60, -0.90,
    0.25, -0.60, 0.60, -1.10, 0.40, -0.20, 0.10, -0.80, 0.70, -0.05,
    -0.50, 0.25, -0.95, 0.70, -0.30, 0.05, -0.70, 0.60, -0.10, 0.30,
    -0.60, 0.50, -0.10, -0.45, 0.25, -0.20, 0.05, -0.10, -0.05, -0.12,
    0.00, -0.25, 0.30, -0.45, 0.55, -0.75, 0.75, 0.20, -1.00, 0.60,
    -0.65, 0.95, -0.30, 0.55, -1.10, 0.20, 1.06, -0.80, 0.40, -1.15,
    1.00, -0.25, 0.55, -1.15, 0.80, 0.15, -0.60, 1.06, -1.00, 0.25,
    0.55, -0.65, 0.35, -0.30, 0.85, -1.00, 0.45, -0.15, 0.70, -0.95,
    0.05, 0.60, -0.55, -0.15, 0.80, -0.90, 0.35, -0.20, 0.50, -1.05,
    0.70, -0.70, 0.10, 0.85, -0.40, 0.25, -1.05, 0.55, -0.15, 0.40,
    -0.95, 0.20, 0.60, -0.55, 0.75, -0.20, -0.95, 0.50, 1.00, -0.70,
    0.30, 1.06, -0.35, 0.80, -0.80, 0.40, 1.00, -0.25, -1.05, 0.65,
    0.15, -0.55, 0.90, -1.05, 0.10, 0.75, -0.80, 0.45, -0.20, 0.65,
    -0.85, 0.40, -0.40, 0.10, -0.20, 0.15, -0.10, -0.05, -0.12, -0.08,
    0.05, -0.10, 0.20, -0.50, 0.60, -0.30, 0.30, -0.90, 0.45, -0.60,
    0.65, -0.20, -1.10, 0.85, -0.45, 0.25, -0.85, 0.70, -0.10, 0.40,
    -1.00, 0.55, -0.25, 0.85, -0.70, 0.10, -1.10, 0.55, -0.40, -1.20,
    -1.10, 0.30, 0.80, -0.50, 0.15, -1.05, 0.75, -0.25, 0.40, -0.85,
    0.55, -0.40, 0.75, -0.95, 0.20, -0.10, 0.70, -0.60, 0.35, -0.20,
]

shear_10 = [
    -0.70, -0.60, -0.75, -0.45, -0.80, -0.30, -0.55, -0.10, -0.90, 0.00,
    -0.40, 0.20, -1.00, -0.20, 0.35, -0.70, 0.10, -1.20, 0.50, -0.45,
    0.80, -1.30, 0.25, -0.60, 0.60, -1.10, 0.00, 0.55, -1.30, 0.30,
    -0.80, 0.65, -0.25, -1.20, 0.40, 0.00, -0.95, 0.70, -0.40, 0.85,
    -1.30, 0.35, 0.80, -0.70, 0.10, 0.60, -1.10, -0.30, 0.45, -0.85,
    0.20, -0.50, 0.70, -1.00, 0.30, -0.20, 0.95, 1.04, -0.70, 1.04,
    -1.30, 0.40, -0.90, 0.75, -0.30, 0.15, -1.20, 0.55, -0.60, 0.85,
    -1.00, 0.25, 0.70, -1.30, 0.45, -0.45, 0.80, -0.80, 0.80, -1.25,
    0.35, -0.30, 0.60, -0.95, 0.20, 0.50, -0.60, 0.35, -0.30, 0.20,
    -0.40, 0.30, -0.20, 0.15, -0.10, 0.10, 0.00, -0.05, 0.05, -0.05,
    0.00, -0.08, 0.05, -0.10, 0.10, -0.20, 0.20, -0.35, 0.40, -0.50,
    0.50, -0.70, 0.30, -0.90, 0.65, -0.20, 0.80, -1.10, 0.45, -0.55,
    0.85, -1.30, 0.10, 0.75, -0.80, 0.40, -1.30, 0.90, -0.40, 0.20,
    -1.05, 0.60, -0.25, 0.80, -1.25, 0.30, -0.65, 0.95, 1.00, -0.90,
    0.50, -0.30, 0.75, -1.10, 0.20, -0.50, 0.60, -1.25, 0.35, -0.20,
    0.70, -0.95, 0.10, -1.30, 0.55, -0.40, 0.95, 1.00, -1.20, 0.80,
    0.30, -0.75, 1.00, -1.30, 0.45, -0.20, 0.70, -1.00, 0.15, -0.55,
    0.60, -1.25, 0.25, -0.70, 0.75, -0.35, 0.40, -1.10, 0.10, -0.60,
    0.50, -0.90, 0.20, -0.40, 0.45, -1.15, -0.10, 0.30, -0.70, 0.10,
    -0.80, -0.20, -0.55, -0.30, -0.75, -0.40, -0.60, -0.50, -0.70, -0.55,
    -0.62,
]
shear_10_mid = [
    -0.65, -0.80, -0.50, -0.70, -0.35, -0.85, -0.20, -0.60, 0.05, -0.95,
    0.10, -0.75, -0.15, 0.30, -1.10, 0.45, -0.55, -0.05, 0.60, -1.05,
    -0.20, 0.40, -0.90, 0.70, -0.40, 0.15, -1.25, 0.75, -0.55, 0.05,
    0.50, -1.10, 0.85, -0.50, 0.20, -1.30, 0.60, -0.15, 0.95, -1.00,
    0.15, -0.55, 0.55, -1.25, 0.75, -0.20, 0.30, -1.00, 0.90, -0.60,
    0.65, -1.20, 0.45, 0.00, -0.85, 0.80, 0.40, -0.35, 1.00, -1.05,
    0.60, -0.15, 0.90, -1.10, 0.25, -0.70, 0.80, -0.40, 0.05, -1.25,
    0.65, -0.60, 0.20, 0.90, -0.95, 0.10, -0.30, 0.60, -1.10, 0.50,
    -0.65, 0.75, -0.10, 0.40, -0.75, 0.30, -0.20, 0.10, 0.35, -0.35,
    0.25, -0.15, 0.10, -0.15, 0.05, -0.08, 0.05, 0.00, -0.02, 0.03,
    -0.05, 0.05, -0.12, 0.15, -0.15, 0.25, -0.30, 0.30, -0.40, 0.55,
    -0.80, 0.70, -0.40, 0.20, -1.05, 0.90, -0.65, 0.35, -1.20, 0.95,
    -0.25, 0.60, -1.00, 1.00, -0.60, 0.00, 0.70, -1.15, 0.55, -0.75,
    0.40, -1.30, 0.85, -0.10, 0.50, -0.95, 0.20, -0.40, 0.75, -1.20,
    0.95, -0.70, 0.10, 0.85, -0.95, 0.45, -0.15, 0.70, -1.30, 0.30,
    -0.50, 0.90, -1.25, 0.40, -0.10, 1.00, -0.70, 0.20, 0.65, -1.00,
    0.55, -0.35, 0.85, -1.20, 0.10, 0.60, -0.80, 0.90, -0.15, -1.30,
    0.35, 0.80, -0.90, 0.15, -0.45, 0.65, -1.30, 0.55, -0.25, 0.30,
    -1.00, 0.65, -0.50, 0.00, -0.85, 0.25, -0.35, -0.65, 0.05, -0.40,
    -0.35, -0.70, -0.15, -0.60, -0.45, -0.75, -0.50, -0.65, -0.58, -0.60,
]

x_ticks = [0.0, 0.5, 1.0, 1.5, 2.0]
x_tick_labels = ["0.0", "0.5", "1.0", "1.5", "2.0"]

# per panel: y values, in-between y values, y-axis limits, tick positions, tick labels ("" = unlabeled tick)
panels = [
    (shear_1, shear_1_mid, (-0.386, 0.325), [-0.3, -0.2, -0.1, 0.0, 0.1, 0.2, 0.3],
     ["-0.3", "", "", "", "", "", "0.3"]),
    (shear_2, shear_2_mid, (-0.30, 0.28), [-0.2, -0.1, 0.0, 0.1, 0.2],
     ["-0.2", "", "", "", ""]),
    (shear_3, shear_3_mid, (-0.192, 0.154), [-0.15, -0.10, -0.05, 0.0, 0.05, 0.10, 0.15],
     ["-0.15", "", "", "", "", "", ""]),
    (shear_4, shear_4_mid, (-0.386, 0.325), [-0.3, -0.2, -0.1, 0.0, 0.1, 0.2, 0.3],
     ["-0.3", "", "", "", "", "", "0.3"]),
    (shear_5, shear_5_mid, (-0.386, 0.325), [-0.3, -0.2, -0.1, 0.0, 0.1, 0.2, 0.3],
     ["-0.3", "", "", "", "", "", "0.3"]),
    (shear_6, shear_6_mid, (-0.532, 0.50), [-0.4, -0.2, 0.0, 0.2, 0.4],
     ["-0.4", "", "", "", ""]),
    (shear_7, shear_7_mid, (-0.77, 0.65), [-0.6, -0.4, -0.2, 0.0, 0.2, 0.4, 0.6],
     ["-0.6", "", "", "", "", "", "0.6"]),
    (shear_8, shear_8_mid, (-1.35, 1.17), [-1.0, -0.5, 0.0, 0.5, 1.0],
     ["-1.0", "", "", "", ""]),
    (shear_9, shear_9_mid, (-1.35, 1.17), [-1.0, -0.5, 0.0, 0.5, 1.0],
     ["-1.0", "", "", "", ""]),
    (shear_10, shear_10_mid, (-1.43, 1.09), [-1.0, -0.5, 0.0, 0.5, 1.0],
     ["-1.0", "", "", "", "1.0"]),
]

for ys, ys_mid, *_ in panels:
    assert len(ys) == len(period_time_s), len(ys)
    assert len(ys_mid) == len(period_time_s_mid), len(ys_mid)

FONT = "Liberation Sans"
FS = "10.5px"


def style_axis(ax):
    ax.major_tick_in = 0
    ax.major_tick_out = 7
    ax.minor_tick_line_color = None
    ax.axis_line_color = "black"
    ax.major_tick_line_color = "black"
    ax.major_label_text_font = FONT
    ax.major_label_text_font_size = FS
    ax.major_label_text_color = "black"
    ax.axis_label_text_font = FONT
    ax.axis_label_text_font_size = FS
    ax.axis_label_text_font_style = "normal"
    ax.axis_label_text_color = "black"


def make_panel(ys, ys_mid, ylim, yticks, ylabels, width):
    p = figure(width=width, height=146, output_backend="svg", toolbar_location=None,
               x_range=Range1d(-0.08, 2.08), y_range=Range1d(*ylim),
               min_border_left=52, min_border_right=width - 351,
               min_border_top=52, min_border_bottom=65)
    p.scatter(period_time_s + period_time_s_mid, ys + ys_mid, marker="circle", size=6.5,
              fill_color=None, line_color="black", line_width=1)
    p.grid.visible = False
    p.outline_line_color = "black"
    p.outline_line_alpha = 1
    p.outline_line_width = 1
    p.background_fill_color = "white"
    p.border_fill_color = "white"

    xa = p.xaxis[0]
    style_axis(xa)
    xa.ticker = FixedTicker(ticks=x_ticks)
    xa.major_label_overrides = dict(zip(x_ticks, x_tick_labels))
    xa.major_label_standoff = 5
    xa.axis_label = "Period_Time_s_Waveform"
    xa.axis_label_standoff = 16

    ya = p.yaxis[0]
    style_axis(ya)
    ya.ticker = FixedTicker(ticks=yticks)
    ya.major_label_overrides = dict(zip(yticks, ylabels))
    ya.major_label_orientation = "vertical"
    ya.major_label_standoff = 6
    ya.axis_label = "Shear_Stress_Pa_Waveform"
    ya.axis_label_standoff = 12
    return p


rows = []
for i in range(0, 10, 2):
    left = make_panel(*panels[i], width=377)
    right = make_panel(*panels[i + 1], width=378)
    rows.append(row(left, right))

layout = column(*rows)

open("out.html", "w").write(file_html(layout, INLINE))
